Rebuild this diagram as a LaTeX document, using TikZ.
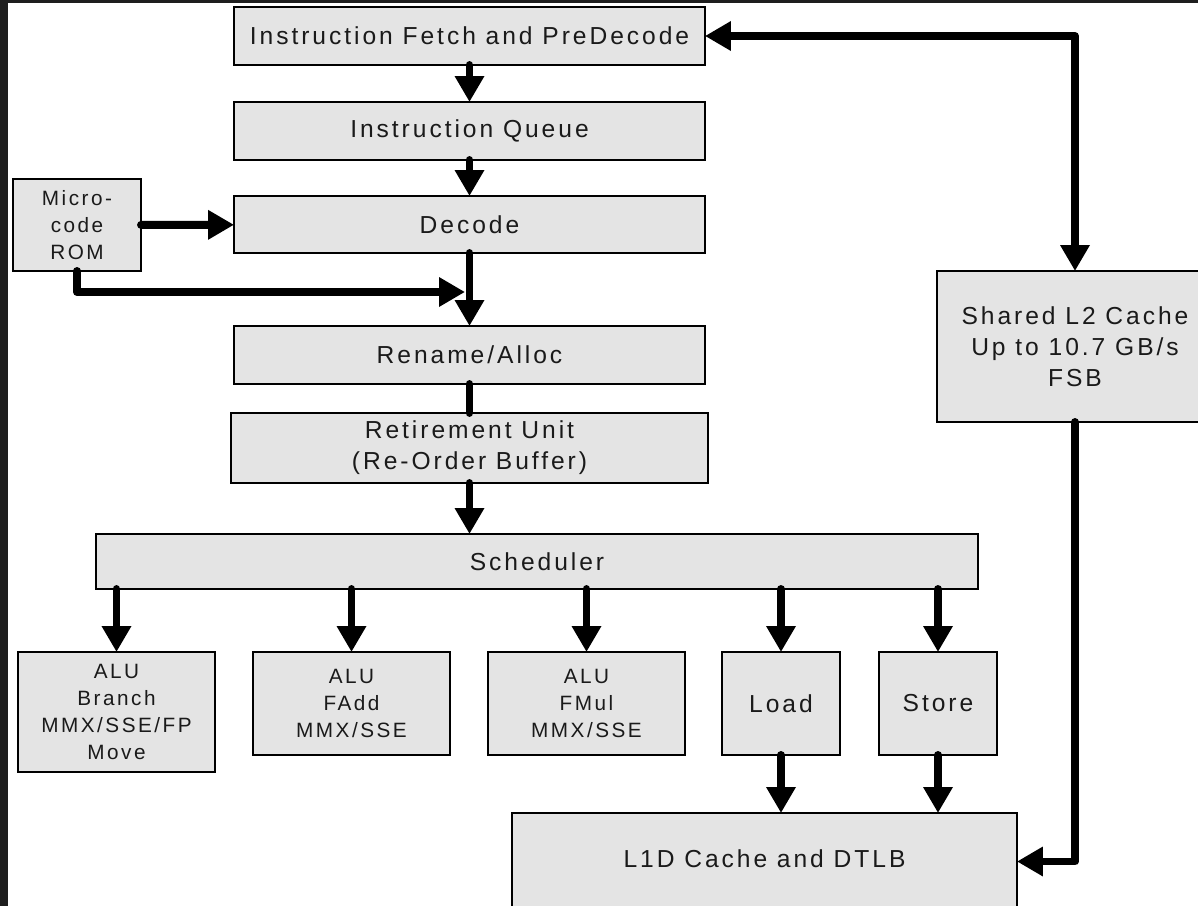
\documentclass[tikz,border=0pt]{standalone}
\usepackage{fontspec}
\setmainfont{Liberation Sans}[LetterSpace=12]
\usetikzlibrary{arrows.meta}

\definecolor{boxfill}{HTML}{E4E4E4}
\definecolor{ink}{HTML}{1A1A1A}
\definecolor{frame}{HTML}{1E1E1E}

\tikzset{
  unit/.style={draw=black, line width=1.1pt, fill=boxfill, text=ink,
    inner sep=0pt, outer sep=0pt, align=center,
    font=\fontsize{14}{17.6}\selectfont},
  smallunit/.style={unit, font=\fontsize{11.8}{15.4}\selectfont},
  flow/.style={line width=4.5pt, line cap=round, line join=round,
    -{Triangle[length=0.52cm,width=0.56cm]}},
  bothflow/.style={flow, {Triangle[length=0.52cm,width=0.56cm]}-{Triangle[length=0.52cm,width=0.56cm]}},
  link/.style={line width=4.5pt, line cap=round}
}

\begin{document}
\begin{tikzpicture}[x=0.02cm, y=-0.02cm]
  \useasboundingbox (0,0) rectangle (1198,906);
  \clip (0,0) rectangle (1198,906);
  \fill[white] (0,0) rectangle (1198,906);
  \fill[frame] (0,0) rectangle (8,906);
  \fill[frame] (0,0) rectangle (1198,3);

  % front end
  \node[unit, minimum width=9.42cm, minimum height=1.16cm] (fetch) at (469.5,36) {Instruction Fetch and PreDecode};
  \node[unit, minimum width=9.42cm, minimum height=1.16cm] (queue) at (469.5,131) {Instruction Queue};
  \node[unit, minimum width=9.42cm, minimum height=1.14cm] (decode) at (469.5,224.5) {Decode};
  \node[smallunit, minimum width=2.56cm, minimum height=1.84cm] (rom) at (77,225) {Micro-\\code\\ROM};
  \node[unit, minimum width=9.42cm, minimum height=1.16cm] (rename) at (469.5,355) {Rename/Alloc};
  \node[unit, minimum width=9.54cm, minimum height=1.40cm] (retire) at (469.5,448) {Retirement Unit\\(Re-Order Buffer)};
  \node[unit, minimum width=17.64cm, minimum height=1.10cm] (sched) at (537,561.5) {Scheduler};

  % execution units
  \node[smallunit, minimum width=3.94cm, minimum height=2.40cm] (alu1) at (116.5,712) {ALU\\Branch\\MMX/SSE/FP\\Move};
  \node[smallunit, minimum width=3.94cm, minimum height=2.06cm] (alu2) at (351.5,703.5) {ALU\\FAdd\\MMX/SSE};
  \node[smallunit, minimum width=3.94cm, minimum height=2.06cm] (alu3) at (586.5,703.5) {ALU\\FMul\\MMX/SSE};
  \node[unit, minimum width=2.36cm, minimum height=2.06cm] (load) at (781,703.5) {Load};
  \node[unit, minimum width=2.36cm, minimum height=2.06cm] (store) at (938,703.5) {Store};

  % memory
  \node[unit, minimum width=10.10cm, minimum height=1.94cm, text depth=0.12cm] (l1d) at (764.5,861.5) {L1D Cache and DTLB};
  \node[unit, minimum width=5.52cm, minimum height=3.02cm] (l2) at (1075,346.5) {Shared L2 Cache\\Up to 10.7 GB/s\\FSB};

  \coordinate (merge) at (465,292);

  % pipeline connectors
  \draw[flow] (fetch) -- (queue);
  \draw[flow] (queue) -- (decode);
  \draw[flow] (decode) -- (rename);
  \draw[flow] (rom) -- (decode);
  \draw[flow] (rom.south) |- (merge);
  \draw[link] (rename) -- (retire);
  \draw[flow] (retire.south) -- (retire.south |- sched.north);
  \foreach \u in {alu1,alu2,alu3,load,store}
    \draw[flow] (\u.north |- sched.south) -- (\u.north);
  \draw[flow] (load.south) -- (load.south |- l1d.north);
  \draw[flow] (store.south) -- (store.south |- l1d.north);

  % bus connectors
  \draw[bothflow] (fetch.east) -| (l2.north);
  \draw[flow] (l2.south) |- (l1d.east);
\end{tikzpicture}
\end{document}
